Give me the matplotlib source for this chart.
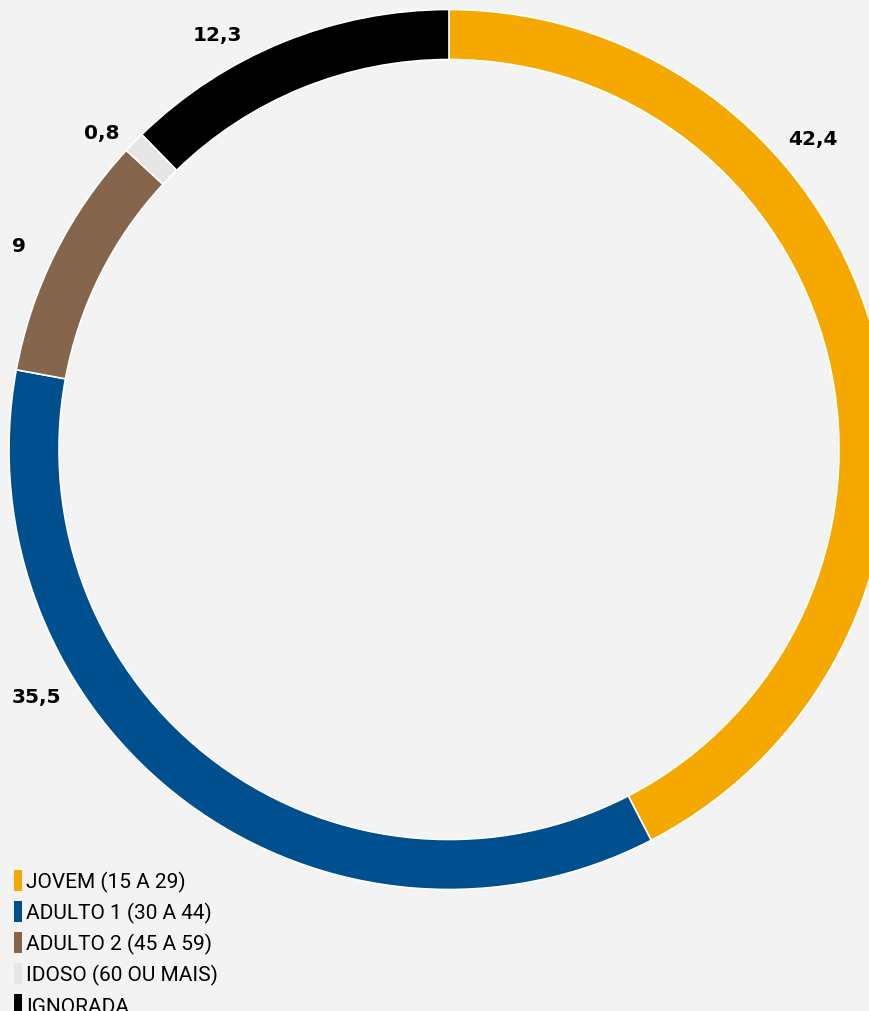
import matplotlib
matplotlib.use("Agg")
import matplotlib.pyplot as plt
from matplotlib.patches import Patch

categories = ["JOVEM (15 A 29)", "ADULTO 1 (30 A 44)", "ADULTO 2 (45 A 59)",
              "IDOSO (60 OU MAIS)", "IGNORADA"]
values = [42.4, 35.5, 9, 0.8, 12.3]
value_labels = ["42,4", "35,5", "9", "0,8", "12,3"]
colors = ["#f5a800", "#004f8f", "#86654d", "#e6e6e6", "#000000"]

# label anchor points (pixels from top-left)
label_pos = [(813, 139), (36, 697), (19, 246), (102, 133), (217, 35)]

W, H = 869, 1012
bg = "#f3f3f3"

fig = plt.figure(figsize=(W / 100, H / 100), dpi=100, facecolor=bg)
ax = fig.add_axes([0, 0, 1, 1])
ax.set_facecolor(bg)

cx, cy, r = 449, H - 450.5, 440
ax.pie(values, colors=colors, startangle=90, counterclock=False,
       center=(cx, cy), radius=r, frame=True,
       wedgeprops=dict(width=50, edgecolor="white", linewidth=1.2))
ax.set_xlim(0, W)
ax.set_ylim(0, H)
ax.set_aspect("equal")
ax.axis("off")

for txt, (px, py) in zip(value_labels, label_pos):
    ax.text(px, H - py, txt, ha="center", va="center", fontsize=14.5,
            fontfamily="DejaVu Sans", fontweight="bold", color="black")

handles = [Patch(facecolor=c, edgecolor="none") for c in colors]
leg = fig.legend(handles, categories, loc="lower left", bbox_to_anchor=(0.006, -0.013),
                 frameon=False, handlelength=0.42, handleheight=1.2,
                 handletextpad=0.2, labelspacing=0.42, borderaxespad=0,
                 prop=dict(family="Roboto", size=15))

fig.savefig("out.png", dpi=100, facecolor=bg)
